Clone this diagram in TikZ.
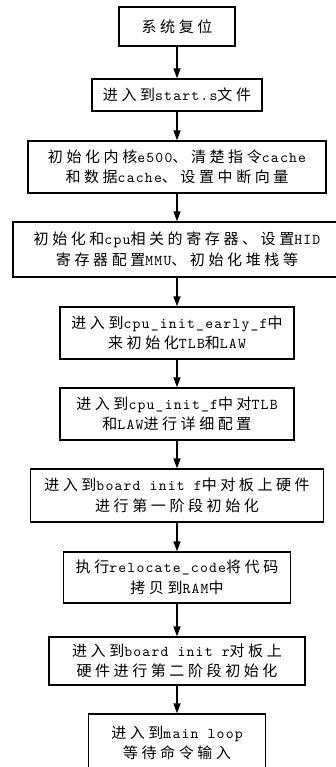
\documentclass[tikz,border=0pt]{standalone}
\usepackage{fontspec}
\setmainfont{lmmono10-regular.otf}[LetterSpace=8]
\newfontfamily\cjk{Noto Sans CJK SC}[LetterSpace=24]
\usetikzlibrary{arrows.meta}
\newcommand\zh[1]{{\cjk #1}}
\tikzset{
  stepbox/.style={draw=black, line width=1.3pt, align=center, inner sep=0pt,
    font=\fontsize{15}{20.5}\selectfont},
  arr/.style={line width=1.3pt, -{Triangle[width=7pt,length=10pt]}}
}
\begin{document}
\begin{tikzpicture}[x=1pt,y=-1pt]
\useasboundingbox[fill=white] (0,0) rectangle (336,767);
\node[stepbox, minimum width=116pt, minimum height=39pt] (b1) at (177,26.5) {\zh{系统复位}};
\node[stepbox, minimum width=170pt, minimum height=32pt] (b2) at (177,95) {\zh{进入到}start.s\zh{文件}};
\node[stepbox, minimum width=298pt, minimum height=52pt] (b3) at (177,167) {\zh{初始化内核}e500\zh{、清楚指令}cache\\\zh{和数据}cache\zh{、设置中断向量}};
\node[stepbox, minimum width=328pt, minimum height=55pt] (b4) at (177,249.5) {\zh{初始化和}cpu\zh{相关的寄存器、设置}HID\\\zh{寄存器配置}MMU\zh{、初始化堆栈等}};
\node[stepbox, minimum width=234pt, minimum height=52pt] (b5) at (177,333) {\zh{进入到}cpu\_init\_early\_f\zh{中}\\\zh{来初始化}TLB\zh{和}LAW};
\node[stepbox, minimum width=234pt, minimum height=52pt] (b6) at (177,414) {\zh{进入到}cpu\_init\_f\zh{中对}TLB\\\zh{和}LAW\zh{进行详细配置}};
\node[stepbox, minimum width=293pt, minimum height=53pt] (b7) at (177,495.5) {\zh{进入到}board init f\zh{中对板上硬件}\\\zh{进行第一阶段初始化}};
\node[stepbox, minimum width=227pt, minimum height=51pt] (b8) at (177,577.5) {\zh{执行}relocate\_code\zh{将代码}\\\zh{拷贝到}RAM\zh{中}};
\node[stepbox, minimum width=256pt, minimum height=48pt] (b9) at (177,661) {\zh{进入到}board init r\zh{对板上}\\\zh{硬件进行第二阶段初始化}};
\node[stepbox, minimum width=177pt, minimum height=58pt] (b10) at (177,743) {\zh{进入到}main loop\\\zh{等待命令输入}};
\draw[arr] (b1) -- (b2);
\draw[arr] (b2) -- (b3);
\draw[arr] (b3) -- (b4);
\draw[arr] (b4) -- (b5);
\draw[arr] (b5) -- (b6);
\draw[arr] (b6) -- (b7);
\draw[arr] (b7) -- (b8);
\draw[arr] (b8) -- (b9);
\draw[arr] (b9) -- (b10);
\end{tikzpicture}
\end{document}
